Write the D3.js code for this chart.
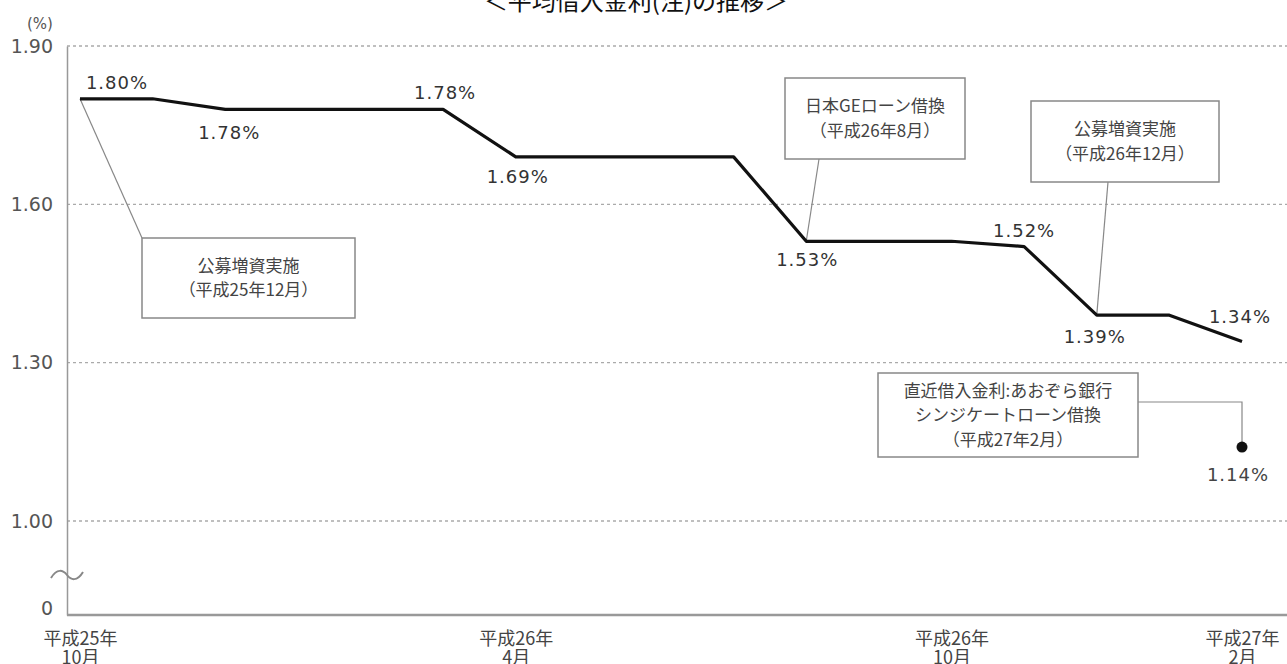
<!DOCTYPE html>
<html>
<head>
<meta charset="utf-8">
<script src="https://cdn.jsdelivr.net/npm/d3@7"></script>
<style>
  body { margin: 0; background: #fff; }
  svg { display: block; font-family: "DejaVu Sans", "Noto Sans CJK JP", sans-serif; }
</style>
</head>
<body>
<svg id="chart" width="1287" height="664"></svg>
<script>
// monthly average borrowing rate (%)
const months = ["2013-10","2013-11","2013-12","2014-01","2014-02","2014-03","2014-04","2014-05","2014-06",
                "2014-07","2014-08","2014-09","2014-10","2014-11","2014-12","2015-01","2015-02"];
const rates = [1.80,1.80,1.78,1.78,1.78,1.78,1.69,1.69,1.69,1.69,1.53,1.53,1.53,1.52,1.39,1.39,1.34];

const latestMonth = "2015-02";
const latestRate = 1.14;

const yTickValues = [0, 1.00, 1.30, 1.60, 1.90];
const gridValues = [1.00, 1.30, 1.60, 1.90];

const xTickMonths = ["2013-10","2014-04","2014-10","2015-02"];
const xTickLabels = [["平成25年","10月"],["平成26年","4月"],["平成26年","10月"],["平成27年","2月"]];

const labelledMonths = ["2013-10","2013-12","2014-03","2014-04","2014-08","2014-11","2014-12","2015-02"];

const eventMonths = ["2013-10","2014-08","2014-12","2015-02"];
const eventTexts = [
  ["公募増資実施","（平成25年12月）"],
  ["日本GEローン借換","（平成26年8月）"],
  ["公募増資実施","（平成26年12月）"],
  ["直近借入金利:あおぞら銀行","シンジケートローン借換","（平成27年2月）"]
];

const svg = d3.select("#chart");
const W = 1287;
const axisX = 67;

const x = d3.scalePoint().domain(months).range([80, 1242]);
// broken axis: 0 sits just below 1.00
const y = d3.scaleLinear().domain([0, 1.00, 1.90]).range([615, 521, 46]);

const rateOf = {};
months.forEach((m, i) => rateOf[m] = rates[i]);

// title (cut off at top like the original)
svg.append("text")
  .attr("x", 636).attr("y", 10)
  .attr("text-anchor", "middle")
  .attr("font-size", 24)
  .attr("fill", "#111")
  .style("font-family", "'Noto Sans CJK JP', sans-serif")
  .text("＜平均借入金利(注)の推移＞");

// grid
svg.append("g").selectAll("line")
  .data(gridValues).enter().append("line")
  .attr("x1", axisX).attr("x2", W)
  .attr("y1", d => y(d)).attr("y2", d => y(d))
  .attr("stroke", "#aaa")
  .attr("stroke-width", 1.3)
  .attr("stroke-dasharray", "3,3");

// y axis
const yAxis = svg.append("g")
  .attr("transform", `translate(${axisX},0)`)
  .call(d3.axisLeft(y).tickValues(yTickValues).tickSize(0).tickPadding(14)
    .tickFormat(d => d === 0 ? "0" : d3.format(".2f")(d)));
yAxis.select(".domain").attr("stroke", "#999").attr("stroke-width", 1.5);
yAxis.selectAll("text")
  .attr("font-size", 19)
  .attr("fill", "#555")
  .style("font-family", "'DejaVu Sans', sans-serif")
  .attr("dy", d => d === 0 ? "-0.05em" : "0.32em");

svg.append("text")
  .attr("x", 40).attr("y", 29)
  .attr("text-anchor", "middle")
  .attr("font-size", 15)
  .attr("fill", "#555")
  .text("(%)");

// axis break mark
svg.append("path")
  .attr("d", `M${axisX - 16},578 C${axisX - 10},568 ${axisX - 4},570 ${axisX},575 S${axisX + 10},582 ${axisX + 16},572`)
  .attr("fill", "none")
  .attr("stroke", "#888")
  .attr("stroke-width", 2);

// baseline + x axis labels
const xAxis = svg.append("g")
  .attr("transform", `translate(0,${y(0)})`)
  .call(d3.axisBottom(x).tickValues(xTickMonths).tickSize(0).tickFormat(""));
xAxis.select(".domain").attr("d", `M${axisX},0H${W}`).attr("stroke", "#999").attr("stroke-width", 2.5);
xAxis.selectAll(".tick text").remove();
xAxis.selectAll(".tick").each(function(d) {
  const lines = xTickLabels[xTickMonths.indexOf(d)];
  const t = d3.select(this).append("text")
    .attr("text-anchor", "middle")
    .attr("font-size", 18)
    .attr("fill", "#444")
    .style("font-family", "'Noto Sans CJK JP', sans-serif");
  lines.forEach((s, i) => {
    t.append("tspan").attr("x", 0).attr("y", 30 + i * 19).text(s);
  });
});

// annotation boxes
const boxes = [
  {x: 142, y: 238, w: 213, h: 80},
  {x: 785, y: 78, w: 180, h: 81},
  {x: 1031, y: 101, w: 188, h: 81},
  {x: 878, y: 373, w: 260, h: 84}
];
const lineH = 24.5;

const notes = svg.append("g");
// connectors
const pt = i => [x(eventMonths[i]), y(rateOf[eventMonths[i]])];
notes.append("path")
  .attr("d", d3.line()([[boxes[0].x, boxes[0].y], pt(0)]));
notes.append("path")
  .attr("d", d3.line()([[819, boxes[1].y + boxes[1].h], pt(1)]));
notes.append("path")
  .attr("d", d3.line()([[1108, boxes[2].y + boxes[2].h], pt(2)]));
notes.append("path")
  .attr("d", d3.line()([[boxes[3].x + boxes[3].w, 402], [x(latestMonth), 402], [x(latestMonth), y(latestRate)]]));
notes.selectAll("path").attr("fill", "none").attr("stroke", "#888").attr("stroke-width", 1.2);

boxes.forEach((b, i) => {
  notes.append("rect")
    .attr("x", b.x).attr("y", b.y).attr("width", b.w).attr("height", b.h)
    .attr("fill", "#fff").attr("stroke", "#888").attr("stroke-width", 1.5);
  const lines = eventTexts[i];
  const cy = b.y + b.h / 2;
  lines.forEach((s, j) => {
    notes.append("text")
      .attr("x", b.x + b.w / 2)
      .attr("y", cy + (j - (lines.length - 1) / 2) * lineH)
      .attr("dy", "0.36em")
      .attr("text-anchor", "middle")
      .attr("font-size", 17)
      .attr("fill", "#444")
      .style("font-family", "'Noto Sans CJK JP', sans-serif")
      .text(s);
  });
});

// rate line
svg.append("path")
  .datum(months)
  .attr("fill", "none")
  .attr("stroke", "#111")
  .attr("stroke-width", 3.2)
  .attr("stroke-linejoin", "round")
  .attr("d", d3.line().x(m => x(m)).y(m => y(rateOf[m])));

// latest rate dot
svg.append("circle")
  .attr("cx", x(latestMonth)).attr("cy", y(latestRate)).attr("r", 5.5)
  .attr("fill", "#111");

// value labels
const labelOffsets = [[37,-10],[4,30],[2,-10],[2,26],[1,25],[0,-10],[-2,28],[-2,-19]];
svg.append("g").selectAll("text")
  .data(labelledMonths).enter().append("text")
  .attr("x", (m, i) => x(m) + labelOffsets[i][0])
  .attr("y", (m, i) => y(rateOf[m]) + labelOffsets[i][1])
  .attr("text-anchor", "middle")
  .attr("font-size", 18)
  .attr("letter-spacing", 1)
  .attr("fill", "#333")
  .text(m => d3.format(".2f")(rateOf[m]) + "%");

svg.append("text")
  .attr("x", x(latestMonth) - 4)
  .attr("y", y(latestRate) + 34)
  .attr("text-anchor", "middle")
  .attr("font-size", 18)
  .attr("letter-spacing", 1)
  .attr("fill", "#444")
  .text(d3.format(".2f")(latestRate) + "%");
</script>
</body>
</html>
